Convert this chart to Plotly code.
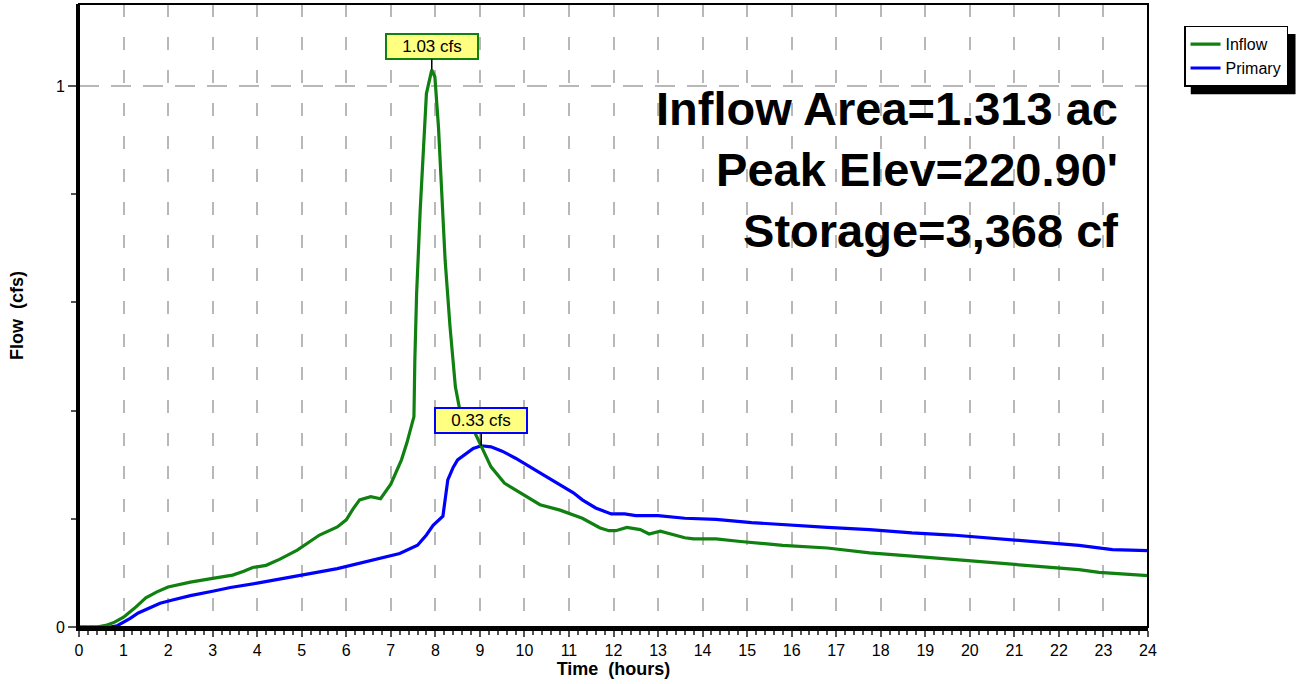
"""
Hydrograph chart: pond inflow vs primary outflow over a 24 hour storm.
"""

import plotly.graph_objects as go

# Inflow hydrograph (hours, cfs)
inflow_time = [0.0, 0.4, 0.6, 0.8, 1.0, 1.25, 1.5, 1.75, 2.0, 2.25, 2.5, 3.0, 3.45, 3.7, 3.9,
               4.2, 4.5, 4.9, 5.2, 5.4, 5.8, 6.0, 6.15, 6.3, 6.55, 6.77, 7.0, 7.15, 7.24, 7.36,
               7.52, 7.54, 7.58, 7.66, 7.73, 7.80, 7.92, 7.99, 8.07, 8.15, 8.22, 8.33, 8.45,
               8.55, 8.7, 8.87, 9.03, 9.25, 9.55, 10.0, 10.35, 10.8, 11.3, 11.7, 11.9, 12.05,
               12.3, 12.6, 12.8, 13.05, 13.3, 13.6, 13.8, 14.3, 14.85, 15.8, 16.8, 17.75, 18.7,
               19.6, 20.55, 21.5, 22.45, 22.9, 24.0]
inflow_cfs = [0.0, 0.0, 0.003, 0.009, 0.018, 0.035, 0.054, 0.065, 0.074, 0.079, 0.083, 0.090,
              0.096, 0.103, 0.110, 0.114, 0.125, 0.142, 0.158, 0.170, 0.185, 0.198, 0.218, 0.235,
              0.241, 0.237, 0.264, 0.290, 0.309, 0.340, 0.389, 0.493, 0.617, 0.770, 0.894, 0.986,
              1.030, 1.017, 0.925, 0.800, 0.678, 0.555, 0.444, 0.401, 0.380, 0.362, 0.333, 0.296,
              0.266, 0.243, 0.226, 0.216, 0.201, 0.183, 0.178, 0.178, 0.184, 0.180, 0.172, 0.177,
              0.172, 0.165, 0.163, 0.163, 0.158, 0.151, 0.146, 0.137, 0.131, 0.125, 0.118, 0.112,
              0.106, 0.101, 0.095]

# Primary outflow hydrograph (hours, cfs)
primary_time = [0.0, 0.7, 0.85, 0.97, 1.15, 1.33, 1.6, 1.82, 2.1, 2.5, 3.0, 3.4, 4.0, 4.5, 5.0,
                5.4, 5.8, 6.1, 6.5, 6.85, 7.2, 7.6, 7.8, 7.95, 8.17, 8.28, 8.4, 8.5, 8.7, 8.85,
                9.03, 9.25, 9.5, 9.8, 10.35, 10.8, 11.1, 11.3, 11.6, 11.95, 12.25, 12.5, 13.0,
                13.6, 14.3, 15.1, 15.8, 16.8, 17.75, 18.7, 19.6, 20.55, 21.5, 22.45, 23.2, 24.0]
primary_cfs = [0.0, 0.0, 0.002, 0.007, 0.016, 0.026, 0.036, 0.044, 0.050, 0.058, 0.066, 0.073,
               0.081, 0.089, 0.097, 0.102, 0.108, 0.114, 0.121, 0.129, 0.136, 0.151, 0.170, 0.188,
               0.205, 0.272, 0.295, 0.309, 0.322, 0.330, 0.335, 0.333, 0.325, 0.312, 0.285, 0.263,
               0.248, 0.235, 0.220, 0.209, 0.209, 0.206, 0.206, 0.201, 0.199, 0.193, 0.189, 0.184,
               0.180, 0.174, 0.170, 0.164, 0.158, 0.151, 0.143, 0.141]

# Peak callouts
peak_labels = ["1.03 cfs", "0.33 cfs"]
peak_time = [7.92, 9.03]
peak_cfs = [1.03, 0.335]

summary_lines = ["Inflow Area=1.313 ac", "Peak Elev=220.90'", "Storage=3,368 cf"]

x_ticks = list(range(0, 25))
y_ticks = [0, 1]
y_minor = [0.2, 0.4, 0.6, 0.8]

FONT = "Liberation Sans, Arial, sans-serif"
GREEN = "#108010"
BLUE = "#0000FF"


def build_hydrograph() -> go.Figure:
    fig = go.Figure()

    fig.add_trace(go.Scatter(
        x=primary_time, y=primary_cfs, name="Primary", mode="lines",
        line=dict(color=BLUE, width=3.2), legendrank=2,
    ))
    fig.add_trace(go.Scatter(
        x=inflow_time, y=inflow_cfs, name="Inflow", mode="lines",
        line=dict(color=GREEN, width=3.2), legendrank=1,
    ))

    # peak callout boxes
    for label, t, q, col in zip(peak_labels, peak_time, peak_cfs, [GREEN, BLUE]):
        fig.add_annotation(
            x=t, y=q, text=label, showarrow=True, arrowhead=0, arrowwidth=1.5,
            arrowcolor="black", ax=0, ay=-23 if q > 1 else -25, standoff=0,
            bgcolor="#FFFF80", bordercolor=col, borderwidth=2, borderpad=2,
            width=86, font=dict(family=FONT, size=17, color="black"),
        )

    fig.add_annotation(
        xref="paper", yref="paper", x=0.974, y=0.735, xanchor="right", yanchor="middle",
        text="<br>".join(summary_lines), align="right", showarrow=False,
        font=dict(family=FONT, size=47, color="black", weight="bold"),
    )

    # frame around plot + legend drop shadow
    fig.add_shape(type="rect", xref="paper", yref="paper", x0=0, y0=0, x1=1, y1=1,
                  line=dict(color="black", width=2), layer="above")
    fig.add_shape(type="rect", xref="paper", yref="paper", x0=1.040, x1=1.138,
                  y0=0.855, y1=0.952, line=dict(width=0), fillcolor="black")

    fig.update_xaxes(
        range=[0, 24], tickvals=x_ticks, ticks="outside", ticklen=6, tickwidth=1.5,
        tickcolor="#555555", showline=True, linewidth=4, linecolor="black",
        showgrid=True, gridcolor="#b8b8b8", gridwidth=1.5, griddash="13px,20px",
        zeroline=False, tickfont=dict(family=FONT, size=16, color="black"),
        minor=dict(dtick=0.2, ticks="outside", ticklen=4, tickcolor="#555555", showgrid=False),
        title=dict(text="Time  (hours)", standoff=2,
                   font=dict(family=FONT, size=18, color="black", weight="bold")),
        automargin=False,
    )
    fig.update_yaxes(
        range=[0, 1.1516], tickvals=y_ticks, ticks="outside", ticklen=8, tickwidth=1.5,
        tickcolor="#555555", showline=True, linewidth=3, linecolor="black",
        showgrid=True, gridcolor="#b8b8b8", gridwidth=1.5, griddash="20px,12px",
        zeroline=False, tickfont=dict(family=FONT, size=16, color="black"),
        minor=dict(tickmode="array", tickvals=y_minor, ticks="outside", ticklen=5,
                   tickcolor="#555555", showgrid=False),
        title=dict(text="Flow  (cfs)", standoff=28,
                   font=dict(family=FONT, size=18, color="black", weight="bold")),
        automargin=False,
    )

    fig.update_layout(
        width=1296, height=684,
        plot_bgcolor="white", paper_bgcolor="white",
        margin=dict(l=79, r=148, t=4, b=57),
        showlegend=True,
        legend=dict(x=1.0337, y=0.965, xanchor="left", yanchor="top",
                    bgcolor="white", bordercolor="black", borderwidth=1.5,
                    font=dict(family=FONT, size=16, color="black"),
                    itemwidth=30, tracegroupgap=0),
    )
    return fig


fig = build_hydrograph()
# drop the browser's default body margin so the figure sits at the page origin
fig.write_html("out.html", config={"displayModeBar": False},
               post_script="document.body.style.margin='0';")
